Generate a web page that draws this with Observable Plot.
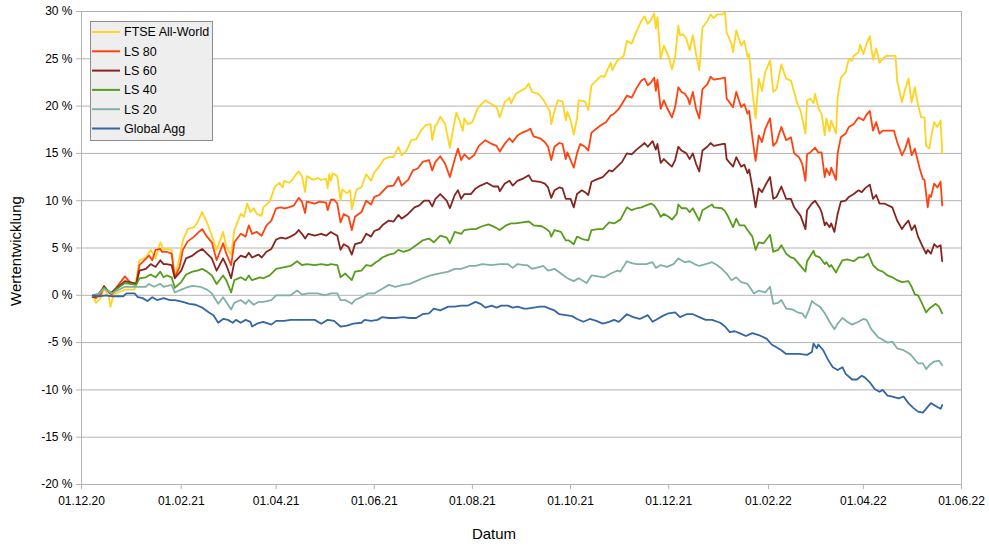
<!DOCTYPE html>
<html>
<head>
<meta charset="utf-8">
<script src="https://cdn.jsdelivr.net/npm/d3@7"></script>
<script src="https://cdn.jsdelivr.net/npm/@observablehq/plot@0.6"></script>
<style>
  html, body { margin: 0; padding: 0; background: #fff; }
  #chart svg text { fill: #000; }
</style>
</head>
<body>
<div id="chart"></div>
<script>
// Start date of the day offsets (Datum)
const startDate = "2020-12-01";
const endDate = "2022-06-01";
const xTickDates = ["2020-12-01","2021-02-01","2021-04-01","2021-06-01","2021-08-01","2021-10-01","2021-12-01","2022-02-01","2022-04-01","2022-06-01"];
const yTickValues = [-20,-15,-10,-5,0,5,10,15,20,25,30];
const seriesNames = ["FTSE All-World","LS 80","LS 60","LS 40","LS 20","Global Agg"];
const seriesColors = ["#ffd320","#ff420e","#85261e","#579d1c","#80b0a7","#3465a4"];

// [day offset from startDate, Wertentwicklung in %]
const ftse = [[7,0.0],[9,-0.8],[12,-0.3],[14,0.8],[17,-0.2],[18,-1.2],[20,0.1],[23,0.3],[27,0.6],[33,0.6],[36,3.7],[40,4.0],[43,4.8],[46,3.9],[49,5.6],[51,4.8],[53,4.9],[56,4.8],[58,1.9],[60,3.3],[63,5.8],[66,7.0],[70,7.2],[72,7.7],[75,8.8],[78,7.7],[81,6.3],[84,4.8],[88,6.7],[90,5.1],[93,4.3],[95,6.9],[99,8.6],[101,8.3],[103,9.7],[105,8.8],[107,9.2],[109,8.6],[112,8.4],[113,9.3],[117,9.9],[120,11.4],[123,11.9],[125,11.4],[126,12.1],[129,11.9],[131,12.2],[133,12.7],[135,13.1],[137,12.6],[139,10.9],[140,12.6],[144,12.2],[147,12.4],[149,12.2],[152,12.3],[153,11.3],[154,12.8],[155,12.1],[156,12.9],[159,12.6],[161,10.0],[162,11.2],[165,10.8],[167,11.1],[168,9.1],[171,11.2],[174,11.4],[177,12.8],[180,12.1],[182,13.0],[185,13.6],[188,14.4],[191,14.6],[194,14.6],[197,15.7],[199,14.8],[202,15.3],[205,16.4],[208,16.5],[211,17.4],[214,18.0],[217,18.1],[218,16.4],[220,18.0],[221,18.1],[223,18.9],[226,18.1],[229,15.6],[231,17.6],[233,19.3],[235,18.5],[237,17.4],[238,18.7],[240,18.1],[243,18.3],[246,19.7],[248,20.1],[251,20.6],[255,20.2],[258,19.9],[260,18.8],[263,20.4],[266,20.9],[267,20.3],[270,21.3],[274,21.7],[276,21.9],[278,22.4],[280,21.5],[284,21.3],[287,20.7],[289,20.1],[291,19.5],[292,18.1],[294,19.5],[296,20.6],[299,20.5],[301,18.5],[302,19.4],[304,18.5],[306,17.0],[308,18.7],[309,20.6],[313,20.5],[315,19.6],[317,22.2],[320,22.7],[323,23.2],[325,23.1],[329,24.6],[330,23.8],[333,24.8],[337,25.3],[339,26.9],[342,26.6],[345,27.9],[348,29.0],[350,29.5],[352,28.7],[354,29.1],[356,29.8],[357,28.2],[358,29.4],[360,25.0],[362,26.4],[365,25.2],[367,23.9],[369,25.2],[371,28.5],[372,27.5],[374,27.6],[376,27.1],[378,25.9],[380,27.5],[382,25.5],[384,23.8],[386,28.3],[389,29.0],[391,29.7],[393,29.3],[395,29.7],[398,29.7],[400,29.9],[401,27.8],[404,26.6],[405,25.7],[407,28.0],[410,26.4],[412,26.9],[414,25.2],[415,25.5],[417,21.6],[419,18.7],[421,22.9],[423,21.6],[425,23.6],[428,24.8],[430,21.5],[432,21.8],[435,24.4],[438,22.9],[441,22.7],[443,21.5],[445,20.2],[447,19.5],[450,17.1],[451,20.6],[453,20.8],[455,20.3],[456,21.3],[458,19.8],[460,19.2],[462,16.9],[463,18.7],[465,17.3],[466,18.5],[469,17.1],[470,20.9],[472,23.0],[475,23.6],[477,25.0],[479,24.8],[480,25.3],[483,25.7],[484,26.5],[486,25.5],[488,26.6],[490,27.4],[492,24.9],[494,26.1],[496,24.6],[498,25.0],[500,25.3],[506,25.3],[507,22.7],[510,20.4],[512,21.8],[514,22.9],[516,20.4],[518,22.0],[520,20.1],[522,18.8],[524,18.8],[525,15.8],[527,15.5],[528,16.6],[530,18.3],[532,17.8],[534,18.5],[535,15.0]];

const ls80 = [[7,-0.1],[9,-0.3],[12,0.1],[14,1.0],[17,0.3],[19,0.1],[22,0.9],[27,2.0],[30,1.4],[34,1.2],[36,3.2],[39,3.7],[42,4.2],[44,3.7],[46,4.8],[49,4.9],[50,4.6],[53,4.6],[56,4.4],[58,1.9],[61,3.0],[63,4.8],[66,5.7],[70,6.2],[73,6.7],[75,7.0],[78,6.2],[81,5.6],[84,3.7],[88,5.5],[90,4.4],[93,3.2],[95,5.6],[99,6.5],[102,6.2],[104,7.4],[106,6.5],[109,6.7],[112,6.3],[115,7.4],[118,7.9],[121,9.2],[124,9.3],[126,9.2],[129,9.3],[132,9.5],[135,10.3],[137,9.9],[139,8.7],[140,9.9],[145,9.7],[148,9.9],[152,9.8],[153,9.0],[155,10.1],[157,10.1],[159,9.7],[161,7.7],[163,8.6],[166,8.3],[168,6.9],[170,8.3],[174,8.8],[177,10.0],[180,9.6],[182,10.4],[185,10.6],[190,11.5],[194,11.6],[197,12.5],[199,11.6],[203,12.2],[206,13.2],[209,13.4],[212,14.1],[216,14.3],[218,13.2],[220,14.1],[223,14.7],[226,13.9],[229,12.5],[232,14.4],[234,15.5],[236,14.3],[238,14.9],[241,14.4],[244,14.8],[247,15.8],[251,16.4],[255,16.0],[258,15.8],[260,15.2],[263,16.0],[266,16.6],[268,16.2],[271,16.9],[274,17.2],[277,17.4],[279,17.6],[281,16.8],[285,16.6],[288,16.2],[290,15.7],[292,14.3],[294,15.7],[297,16.1],[299,16.0],[301,14.4],[302,15.1],[304,14.3],[306,13.5],[308,15.0],[310,16.0],[313,15.7],[315,15.3],[317,17.2],[320,17.6],[323,18.0],[326,18.3],[329,19.0],[331,19.2],[334,19.7],[339,21.1],[342,20.9],[345,21.9],[348,22.7],[350,22.9],[352,22.2],[354,22.5],[356,23.0],[357,21.6],[358,22.8],[360,19.7],[362,20.6],[364,19.8],[367,18.8],[369,19.9],[371,22.0],[373,21.5],[375,21.3],[377,20.8],[378,20.2],[380,21.5],[382,19.7],[384,18.7],[386,21.8],[389,22.3],[391,23.1],[393,22.8],[397,22.9],[400,23.0],[401,20.8],[404,20.1],[405,19.9],[407,21.5],[410,19.9],[412,20.2],[414,19.2],[415,19.5],[417,16.7],[419,14.2],[421,16.9],[423,16.2],[425,17.6],[428,18.7],[430,15.8],[432,16.2],[435,17.8],[438,16.4],[441,16.7],[443,15.0],[446,14.6],[448,13.9],[450,12.1],[451,14.9],[453,15.1],[456,15.6],[458,15.1],[460,15.1],[462,12.5],[463,13.4],[465,12.7],[466,13.5],[469,12.2],[470,15.0],[472,16.7],[475,17.1],[477,17.8],[480,18.1],[483,18.8],[486,18.5],[488,19.1],[490,19.5],[492,17.4],[494,18.3],[496,17.1],[498,17.4],[500,17.4],[505,17.4],[507,16.2],[510,14.8],[512,15.5],[514,16.6],[516,14.8],[518,15.5],[521,13.4],[523,12.3],[524,12.2],[526,9.3],[527,10.6],[528,10.4],[530,11.8],[532,11.4],[534,12.0],[535,9.5]];

const ls60 = [[7,-0.2],[10,0.0],[14,0.9],[18,0.2],[22,0.8],[27,1.5],[34,1.2],[36,2.6],[40,2.8],[43,3.3],[46,3.0],[49,3.7],[51,3.3],[53,3.3],[56,3.2],[58,1.8],[62,2.6],[65,3.9],[69,4.2],[72,4.6],[75,4.9],[78,4.4],[81,3.9],[84,2.6],[88,3.9],[90,3.2],[93,1.8],[95,3.5],[99,4.2],[102,4.0],[104,4.5],[106,4.0],[110,4.3],[112,4.0],[115,4.6],[118,4.9],[121,5.9],[124,6.1],[127,6.0],[130,6.2],[133,6.5],[135,6.9],[137,6.5],[139,6.0],[141,6.5],[145,6.3],[149,6.5],[152,6.3],[155,6.7],[159,6.3],[161,4.8],[163,5.4],[166,5.1],[168,4.3],[170,5.4],[174,5.6],[177,6.5],[180,6.2],[182,6.8],[185,7.0],[187,7.4],[191,7.9],[194,7.8],[197,8.5],[199,8.1],[203,8.6],[207,9.3],[210,9.5],[213,10.0],[216,10.0],[218,9.4],[220,10.2],[223,10.7],[227,10.0],[229,9.2],[232,10.6],[234,11.1],[236,10.2],[238,10.7],[242,10.7],[245,11.3],[248,11.6],[252,11.9],[256,11.5],[259,11.5],[260,11.0],[263,11.8],[266,12.1],[268,11.6],[271,12.1],[274,12.3],[278,12.7],[280,12.1],[285,12.0],[288,11.8],[290,11.4],[292,10.3],[294,11.1],[297,11.4],[299,11.3],[301,10.2],[304,10.2],[306,9.3],[308,10.7],[311,11.1],[313,10.9],[315,10.6],[317,12.0],[321,12.3],[324,12.5],[328,13.2],[330,13.1],[333,13.6],[336,14.1],[339,15.0],[342,14.9],[345,15.4],[348,15.8],[350,16.1],[352,15.7],[355,16.3],[357,15.4],[358,16.0],[360,14.0],[362,14.4],[365,13.9],[367,13.6],[369,14.3],[371,15.7],[373,15.3],[376,15.0],[378,14.4],[380,15.0],[382,13.9],[384,13.1],[386,15.3],[389,15.7],[391,16.1],[393,15.8],[399,16.0],[400,16.0],[401,14.4],[405,13.6],[407,14.6],[410,13.6],[412,13.8],[414,12.9],[415,13.3],[417,11.4],[419,9.3],[421,11.3],[423,10.9],[425,11.6],[428,12.5],[430,10.2],[432,10.4],[435,11.5],[438,10.2],[441,10.2],[443,9.3],[447,8.4],[450,7.0],[451,9.0],[454,9.7],[456,10.0],[459,9.2],[460,8.8],[462,7.4],[463,7.7],[465,7.2],[466,7.6],[468,6.7],[470,8.6],[472,9.9],[475,10.0],[477,10.4],[480,10.7],[483,11.1],[485,10.9],[487,11.3],[490,11.7],[492,10.2],[494,10.6],[496,9.7],[499,9.7],[504,9.3],[507,7.9],[510,7.0],[512,7.5],[514,7.9],[516,6.9],[518,7.4],[520,6.2],[523,5.1],[525,4.4],[526,4.8],[528,4.4],[530,5.4],[532,5.1],[534,5.3],[535,3.6]];

const ls40 = [[7,-0.1],[11,0.2],[14,0.8],[19,0.2],[22,0.7],[27,1.3],[34,1.1],[36,1.8],[40,1.9],[43,2.2],[46,1.9],[49,2.5],[51,1.9],[53,2.1],[56,1.9],[58,0.8],[62,1.4],[65,2.2],[69,2.5],[72,2.6],[75,2.8],[78,2.5],[81,2.1],[84,1.2],[88,2.1],[90,1.6],[93,0.3],[95,1.6],[99,1.9],[102,1.6],[104,2.1],[106,1.6],[111,1.9],[113,1.8],[117,2.1],[121,2.8],[124,2.9],[127,3.0],[130,3.1],[134,3.6],[137,3.2],[140,3.3],[145,3.2],[149,3.3],[153,3.2],[155,3.3],[159,3.2],[161,1.9],[164,2.3],[168,1.6],[170,2.5],[174,2.6],[177,3.2],[180,3.1],[183,3.5],[185,3.7],[187,4.0],[191,4.3],[194,4.4],[197,4.8],[200,4.6],[204,4.8],[208,5.3],[212,5.8],[216,6.0],[219,5.6],[223,6.3],[227,6.1],[229,5.5],[232,6.7],[236,6.5],[238,6.9],[242,7.0],[245,7.0],[249,7.3],[253,7.5],[257,7.2],[260,6.9],[264,7.4],[267,7.6],[270,7.6],[274,7.7],[278,7.8],[281,7.4],[286,7.3],[289,7.0],[291,6.7],[292,6.2],[294,6.9],[298,6.7],[301,5.8],[303,5.8],[306,5.4],[308,6.2],[312,5.9],[315,5.8],[317,6.9],[321,7.0],[324,7.0],[328,7.7],[331,7.6],[335,8.0],[339,9.3],[342,9.0],[345,9.2],[348,9.3],[351,9.5],[354,9.7],[356,9.5],[358,9.0],[360,8.3],[362,8.6],[365,8.3],[367,8.0],[370,8.6],[371,9.6],[373,9.2],[376,9.2],[378,8.8],[380,9.2],[384,7.9],[386,9.0],[389,9.3],[392,9.6],[393,9.3],[398,9.2],[400,8.9],[402,8.3],[405,7.2],[407,8.1],[409,7.4],[412,7.4],[414,6.9],[417,6.2],[419,4.8],[421,5.6],[424,5.5],[428,6.4],[430,4.6],[433,4.8],[435,5.3],[438,4.4],[441,4.0],[443,3.9],[446,3.3],[450,2.5],[451,3.6],[455,4.7],[456,4.2],[459,4.0],[462,3.3],[463,3.5],[465,3.0],[466,3.2],[469,2.4],[471,3.1],[473,3.7],[476,3.8],[480,3.6],[483,4.0],[486,4.0],[489,4.4],[492,3.2],[495,2.7],[498,2.5],[501,2.1],[504,1.9],[507,1.6],[510,1.4],[514,1.5],[516,0.9],[518,0.1],[520,0.0],[522,-0.7],[525,-1.8],[527,-1.4],[531,-0.9],[533,-1.2],[535,-1.9]];

const ls20 = [[7,0.0],[11,0.2],[14,0.7],[19,0.2],[22,0.5],[27,0.9],[34,0.9],[40,0.9],[42,1.2],[45,0.9],[49,1.2],[51,0.9],[56,1.1],[58,0.3],[62,0.6],[65,0.8],[69,1.0],[74,0.9],[78,0.6],[81,0.2],[85,-0.9],[88,-0.2],[90,-0.7],[93,-1.5],[95,-0.8],[99,-0.5],[102,-0.9],[104,-0.5],[107,-1.0],[110,-0.7],[113,-0.7],[118,-0.5],[121,0.0],[125,0.0],[130,0.0],[134,0.5],[137,0.1],[141,0.2],[147,0.2],[151,0.0],[155,0.2],[159,0.2],[161,-0.5],[164,-0.5],[168,-0.9],[170,-0.5],[174,-0.2],[178,0.2],[182,0.2],[185,0.5],[187,0.7],[191,1.1],[195,0.9],[200,1.1],[204,1.2],[208,1.5],[212,1.8],[217,2.1],[222,2.3],[228,2.5],[232,2.8],[236,2.8],[241,3.1],[245,3.1],[249,3.3],[255,3.2],[260,3.3],[265,3.3],[268,2.9],[271,3.3],[275,3.2],[277,3.2],[280,2.8],[285,3.0],[287,3.1],[290,2.6],[294,2.8],[298,2.3],[302,1.8],[306,1.5],[309,1.8],[314,1.3],[317,2.1],[321,2.0],[325,1.9],[329,2.3],[333,2.6],[335,2.5],[339,3.6],[342,3.4],[345,3.3],[348,3.3],[351,3.3],[355,3.5],[357,2.9],[360,3.2],[364,3.0],[368,3.3],[371,3.9],[375,3.5],[378,3.6],[381,3.3],[384,3.1],[388,3.3],[392,3.5],[395,3.2],[398,2.8],[401,2.3],[404,1.6],[407,1.9],[410,1.4],[414,1.2],[418,0.2],[421,0.5],[425,0.3],[428,0.9],[430,-0.9],[433,-0.8],[435,-0.5],[438,-1.4],[442,-1.5],[445,-1.8],[448,-1.9],[450,-2.4],[452,-1.6],[454,-0.6],[456,-0.9],[459,-1.2],[462,-1.9],[465,-2.8],[468,-3.6],[470,-3.0],[473,-2.4],[476,-2.8],[479,-3.1],[483,-2.8],[486,-2.5],[488,-2.6],[491,-3.6],[495,-4.4],[498,-4.7],[501,-5.0],[504,-4.9],[507,-5.6],[511,-5.8],[515,-6.2],[517,-6.6],[520,-7.2],[523,-7.2],[525,-7.8],[527,-7.4],[530,-7.0],[533,-6.9],[535,-7.4]];

const globalAgg = [[7,0.0],[11,-0.1],[15,0.0],[19,-0.1],[23,-0.1],[26,-0.1],[28,0.2],[33,0.2],[35,-0.2],[38,-0.3],[41,-0.6],[44,-0.2],[47,-0.5],[51,-0.3],[55,-0.5],[58,-0.5],[63,-0.7],[67,-0.9],[71,-1.0],[75,-1.3],[79,-1.8],[82,-2.1],[85,-2.9],[88,-2.5],[91,-2.6],[94,-2.9],[96,-2.6],[99,-2.9],[102,-2.6],[105,-2.8],[106,-3.3],[109,-3.0],[113,-2.8],[118,-3.1],[121,-2.7],[126,-2.7],[130,-2.6],[134,-2.6],[138,-2.6],[145,-2.6],[149,-3.0],[153,-2.6],[157,-2.7],[161,-3.3],[165,-3.2],[169,-3.0],[174,-2.9],[176,-2.6],[180,-2.7],[184,-2.6],[187,-2.3],[191,-2.4],[195,-2.4],[200,-2.3],[204,-2.4],[208,-2.4],[212,-2.0],[216,-1.9],[219,-1.4],[223,-1.6],[228,-1.2],[232,-1.2],[236,-1.1],[240,-1.1],[245,-0.7],[248,-0.9],[251,-1.3],[255,-1.1],[258,-1.3],[261,-1.1],[265,-1.1],[268,-1.3],[271,-1.2],[275,-1.4],[277,-1.4],[281,-1.3],[285,-1.2],[288,-1.2],[291,-1.4],[294,-1.6],[297,-2.0],[301,-2.1],[305,-2.2],[308,-2.5],[312,-2.8],[316,-2.5],[320,-2.7],[324,-3.0],[328,-2.8],[331,-2.6],[334,-2.8],[339,-2.0],[343,-2.3],[347,-2.5],[352,-2.1],[355,-2.8],[358,-2.5],[361,-2.2],[365,-1.9],[369,-1.8],[372,-2.3],[376,-2.0],[380,-2.0],[384,-2.3],[388,-2.6],[392,-2.6],[397,-2.9],[400,-3.3],[403,-3.9],[406,-3.8],[409,-4.0],[413,-4.3],[417,-4.0],[421,-4.2],[426,-4.6],[429,-5.2],[432,-5.5],[435,-5.8],[438,-6.2],[442,-6.2],[446,-6.2],[451,-6.3],[454,-6.0],[455,-5.1],[457,-5.6],[458,-5.2],[461,-5.8],[464,-6.8],[467,-7.6],[470,-7.9],[473,-7.6],[475,-8.3],[479,-8.9],[482,-8.9],[485,-8.5],[487,-8.7],[490,-9.2],[493,-9.9],[496,-10.2],[498,-10.0],[501,-10.6],[504,-10.7],[508,-10.9],[511,-10.7],[514,-11.4],[517,-11.9],[520,-12.3],[523,-12.4],[526,-11.8],[528,-11.4],[532,-11.8],[534,-12.0],[535,-11.6]];

const seriesData = [ftse, ls80, ls60, ls40, ls20, globalAgg];

const start = new Date(startDate + "T00:00:00Z");
const end = new Date(endDate + "T00:00:00Z");
const xTicks = xTickDates.map(s => new Date(s + "T00:00:00Z"));
const fmt = d3.utcFormat("%d.%m.%y");

const series = seriesNames.map((name, i) => ({
  name,
  color: seriesColors[i],
  rows: seriesData[i].map(([d, v]) => ({date: d3.utcDay.offset(start, d), value: v}))
}));

const gridColor = "#b3b3b3";
const fontFamily = "'Liberation Sans', Arial, sans-serif";

const chart = Plot.plot({
  width: 989,
  height: 546,
  marginLeft: 81,
  marginRight: 28,
  marginTop: 11,
  marginBottom: 62,
  style: {
    fontFamily,
    fontSize: "12px",
    color: gridColor,
    background: "#fff",
    overflow: "visible"
  },
  x: {type: "utc", domain: [start, end], ticks: xTicks, tickFormat: fmt, tickSize: 5, tickPadding: 7, label: null},
  y: {domain: [-20, 30], ticks: yTickValues, tickFormat: d => `${d} %`, tickSize: 5, tickPadding: 4, label: null},
  marks: [
    Plot.ruleY(yTickValues, {stroke: gridColor, strokeWidth: 1}),
    Plot.ruleX([start], {stroke: gridColor, strokeWidth: 1}),
    Plot.ruleX([end], {stroke: gridColor, strokeWidth: 1}),
    ...series.map(s => Plot.line(s.rows, {x: "date", y: "value", stroke: s.color, strokeWidth: 1.8, strokeLinejoin: "round"}))
  ]
});

document.getElementById("chart").appendChild(chart);

const svg = d3.select(chart);
svg.append("text")
  .attr("transform", "translate(16,251) rotate(-90)")
  .attr("text-anchor", "middle")
  .attr("dy", "0.35em")
  .attr("font-family", fontFamily)
  .attr("font-size", 15)
  .text("Wertentwicklung");
svg.append("text")
  .attr("x", 494)
  .attr("y", 534)
  .attr("text-anchor", "middle")
  .attr("dy", "0.35em")
  .attr("font-family", fontFamily)
  .attr("font-size", 15)
  .text("Datum");

const lg = svg.append("g").attr("font-family", fontFamily).attr("font-size", 12.5).attr("text-anchor", "start");
lg.append("rect").attr("x", 90.5).attr("y", 21.5).attr("width", 122).attr("height", 119)
  .attr("fill", "#eeeeee").attr("stroke", "#8c8c8c");
series.forEach((s, i) => {
  const y = 32 + i * 19.3;
  lg.append("line").attr("x1", 92).attr("x2", 120).attr("y1", y).attr("y2", y)
    .attr("stroke", s.color).attr("stroke-width", 2);
  lg.append("text").attr("x", 124).attr("y", y).attr("dy", "0.35em")
    .attr("text-anchor", "start").text(s.name);
});
</script>
</body>
</html>
